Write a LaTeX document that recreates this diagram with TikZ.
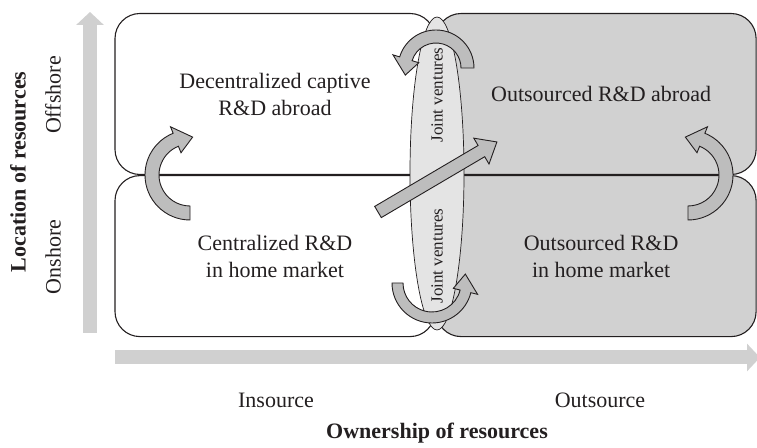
\documentclass[tikz,border=0pt]{standalone}
\usepackage{fontspec}
\setmainfont{Liberation Serif}
\usepackage{tikz}
\usetikzlibrary{arrows.meta,positioning,shapes.geometric}
\definecolor{quadgray}{HTML}{D1D1D1}
\definecolor{jvgray}{HTML}{E4E4E4}
\definecolor{turngray}{HTML}{BDBDBD}
\definecolor{axisgray}{HTML}{D0D0D0}
\definecolor{inkgray}{HTML}{231F20}

% #1 centre, #2 start angle, #3 head base angle, #4 tip angle, #5 inner r, #6 outer r
\newcommand{\bentarrow}[6]{%
  \begin{scope}[shift={#1}]
    \draw[turnarrow] (#2:#6) arc[start angle=#2, end angle=#3, radius=#6pt]
      -- (#3:{#6+7}) -- (#4:{(#5+#6)/2}) -- (#3:{#5-7}) -- (#3:#5)
      arc[start angle=#3, end angle=#2, radius=#5pt] -- cycle;
  \end{scope}}

\begin{document}
\begin{tikzpicture}[x=1pt,y=1pt,
  every node/.style={text=inkgray},
  quad/.style={draw=inkgray, line width=1.1pt, rounded corners=25pt,
    minimum width=320pt, minimum height=161pt, inner sep=0pt, align=center,
    font=\fontsize{22}{27}\selectfont},
  jvlens/.style={ellipse, draw=inkgray, line width=0.7pt, fill=jvgray,
    minimum width=54pt, minimum height=313pt, inner sep=0pt},
  jvtext/.style={rotate=90, font=\fontsize{17}{20}\selectfont},
  axistext/.style={font=\fontsize{22}{26}\selectfont},
  axistitle/.style={font=\bfseries\fontsize{22}{26}\selectfont},
  axisarrow/.style={draw=axisgray, line width=14pt, -{Triangle[width=27pt,length=13pt]}},
  turnarrow/.style={fill=turngray, draw=inkgray, line width=0.9pt, line join=miter}]
  \useasboundingbox (0,0) rectangle (757,447);

  % axes
  \coordinate (yfoot) at (90,114);
  \coordinate (ytop) at (90,435);
  \coordinate (xfoot) at (115,89.5);
  \coordinate (xtip) at (760,89.5);
  \draw[axisarrow] (yfoot) -- (ytop);
  \draw[axisarrow] (xfoot) -- (xtip);

  % the four quadrants
  \node[quad] (tl) at (275,353) {Decentralized captive\\R\&D abroad};
  \node[quad, below=0pt of tl] (bl) {Centralized R\&D\\in home market};
  \node[quad, fill=quadgray, right=0pt of tl] (tr) {\hspace*{10pt}Outsourced R\&D abroad};
  \node[quad, fill=quadgray, right=0pt of bl] (br) {\hspace*{10pt}Outsourced R\&D\\\hspace*{10pt}in home market};

  \node[jvlens] (jv) at (437,273.5) {};

  % moves between quadrants
  \bentarrow{(190,272)}{270}{112}{86}{31}{45}
  \bentarrow{(688,272)}{-90}{68}{94}{31}{45}
  \bentarrow{(436,379)}{0}{163}{193}{25}{38}
  \bentarrow{(432,164)}{180}{346}{375}{29}{40}
  \begin{scope}[shift={(378,235)}, rotate=30.5]
    \draw[turnarrow] (0,-6.5) -- (120,-6.5) -- (120,-15) -- (138,0)
      -- (120,15) -- (120,6.5) -- (0,6.5) -- cycle;
  \end{scope}

  \node[jvtext] (jvup) at (437,352) {Joint ventures};
  \node[jvtext] (jvdown) at (437,191) {Joint ventures};

  % axis labels
  \node[axistitle, rotate=90] (loc) at (18,275) {Location of resources};
  \node[axistext, rotate=90] (off) at (53,352) {Offshore};
  \node[axistext, rotate=90] (on) at (53,190) {Onshore};
  \node[axistext] (ins) at (276,47) {Insource};
  \node[axistext] (outs) at (600,47) {Outsource};
  \node[axistitle] (own) at (437,14) {Ownership of resources};
\end{tikzpicture}
\end{document}
